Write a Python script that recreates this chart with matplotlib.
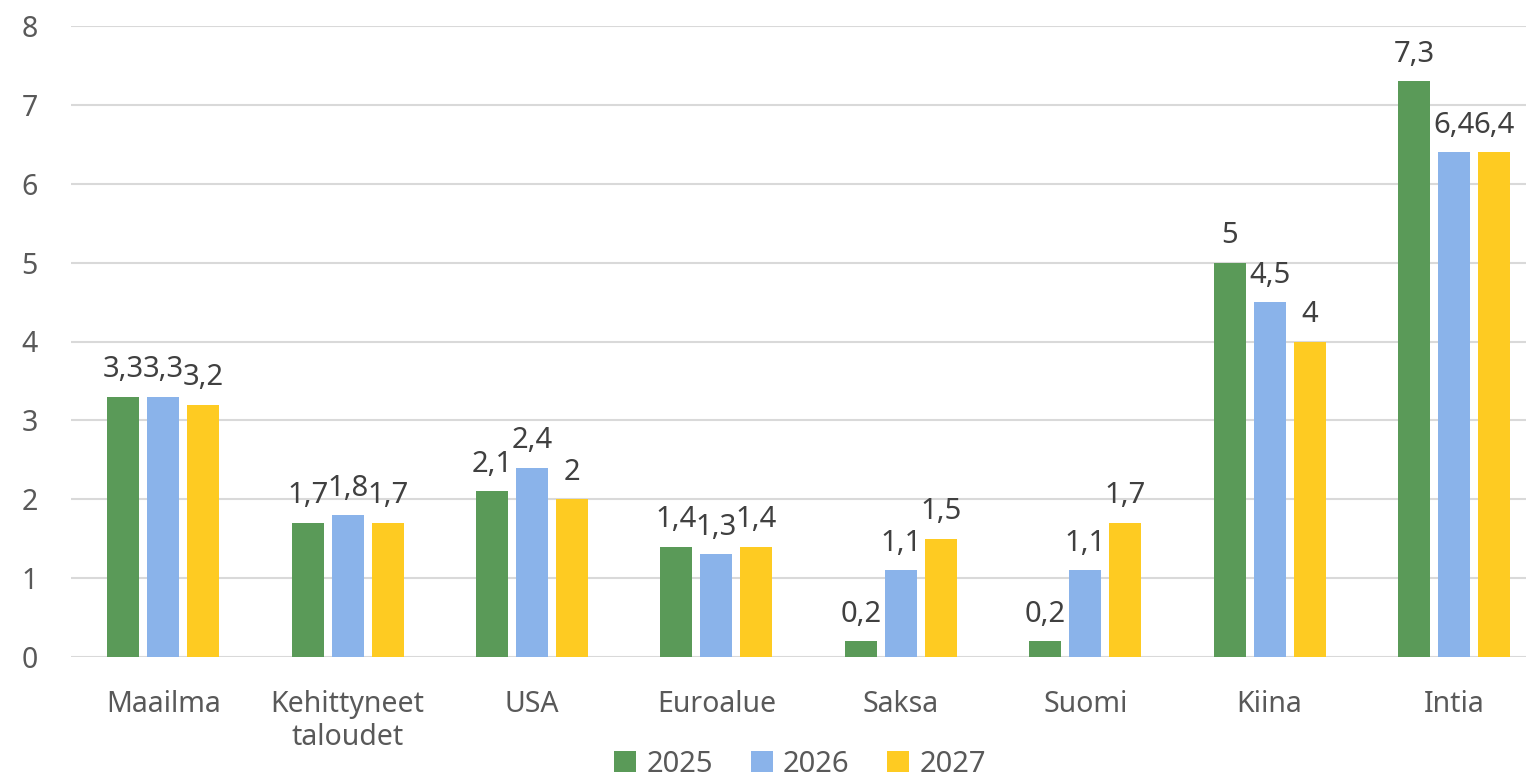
import matplotlib
matplotlib.use("Agg")
import matplotlib.pyplot as plt
import numpy as np

categories = ["Maailma", "Kehittyneet\ntaloudet", "USA", "Euroalue", "Saksa", "Suomi", "Kiina", "Intia"]
series_names = ["2025", "2026", "2027"]
v2025 = [3.3, 1.7, 2.1, 1.4, 0.2, 0.2, 5.0, 7.3]
v2026 = [3.3, 1.8, 2.4, 1.3, 1.1, 1.1, 4.5, 6.4]
v2027 = [3.2, 1.7, 2.0, 1.4, 1.5, 1.7, 4.0, 6.4]
colors = ["#5A9A58", "#8AB3EA", "#FECB22"]

plt.rcParams['font.family'] = ['Noto Sans', 'DejaVu Sans']
TXT = "#595959"

W, H = 1526, 778
fig = plt.figure(figsize=(W / 100, H / 100), dpi=100)
left = 71 / W
bottom = (H - 657) / H
top = (H - 26) / H
ax = fig.add_axes([left, bottom, 1 - left, top - bottom])

spacing_px = 184.4
x = np.arange(len(categories))
bw = 32 / spacing_px
step = 40 / spacing_px

def fmt(v):
    s = f"{v:g}"
    return s.replace(".", ",")

for i, (vals, name, c) in enumerate(zip([v2025, v2026, v2027], series_names, colors)):
    pos = x + (i - 1) * step
    bars = ax.bar(pos, vals, width=bw, color=c, label=name, zorder=3)
    for b, v in zip(bars, vals):
        ax.annotate(fmt(v), (b.get_x() + b.get_width() / 2, v), xytext=(0, 9),
                    textcoords="offset points", ha="center", va="bottom",
                    fontsize=21, color="#404040")

ax.set_xlim(-0.5, -0.5 + (W - 71) / spacing_px)
ax.set_ylim(0, 8)
ax.set_yticks(range(0, 9))
ax.yaxis.grid(True, color="#D9D9D9", linewidth=1.5, zorder=0)
ax.set_axisbelow(True)
for s in ax.spines.values():
    s.set_visible(False)
ax.tick_params(axis="y", length=0, pad=24, labelsize=20.5, labelcolor=TXT)
ax.tick_params(axis="x", length=0, pad=24, labelsize=20.5, labelcolor=TXT)
ax.set_xticks(x)
ax.set_xticklabels(categories, linespacing=1.15)

leg = fig.legend(loc="center", bbox_to_anchor=(800 / W, 1 - 764 / H), ncol=3,
                 frameon=False, fontsize=21, handlelength=0.75, handleheight=0.75,
                 handletextpad=0.35, columnspacing=1.3, labelcolor=TXT)

fig.savefig("out.png", dpi=100)
